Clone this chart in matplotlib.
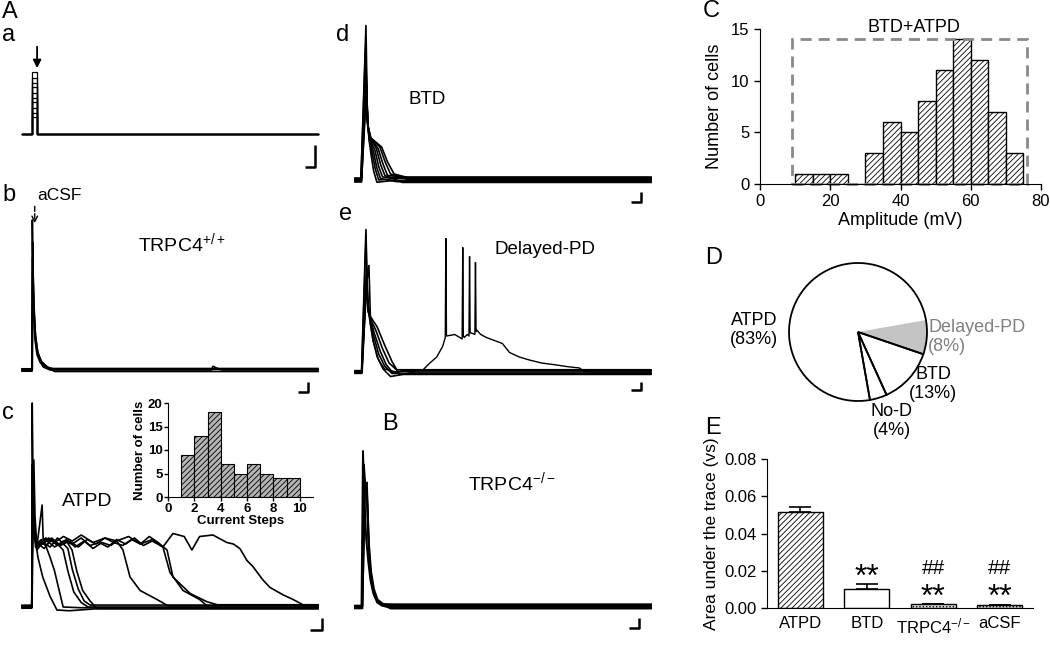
# Figure: TRPC4 plateau potential traces + summary panels
import numpy as np
import matplotlib
matplotlib.use("Agg")
import matplotlib.pyplot as plt
from matplotlib.patches import Rectangle

plt.rcParams['font.family'] = ['Liberation Sans', 'DejaVu Sans']
plt.rcParams['mathtext.fontset'] = 'custom'
plt.rcParams['mathtext.rm'] = 'Liberation Sans'
plt.rcParams['mathtext.it'] = 'Liberation Sans'
plt.rcParams['mathtext.bf'] = 'Liberation Sans:bold'
plt.rcParams['hatch.linewidth'] = 0.6

# ---------------- data ----------------
# Aa: current step protocol (display units)
step_levels = [11, 14, 17.5, 21, 24, 27.5, 31, 34, 37.5, 41]
step_on, step_off = 3.3, 4.95

# Ab: aCSF in TRPC4+/+ (time in % of sweep, voltage above baseline)
b_traces = [
    ([0, 3.3, 3.5, 3.8, 4.3, 5.0, 6.0, 7.2, 9.5, 64.0, 64.5, 65.5, 67.5, 100],
     [0, 0, 100, 55, 25, 13, 6, 2, 0, 0, 2.5, 1.5, 0, 0]),
    ([0, 3.4, 3.6, 3.9, 4.4, 5.1, 6.2, 8, 10, 100], [0.8, 0.8, 75, 45, 20, 10, 5, 1.5, 1.0, 1.0]),
    ([0, 3.4, 3.6, 3.9, 4.5, 5.3, 6.5, 8.5, 11, 100], [-0.8, -0.8, 85, 50, 24, 12, 6, 2, -1.0, -1.0]),
    ([0, 3.5, 3.7, 4.0, 4.6, 5.4, 6.6, 8.6, 11, 100], [0.3, 0.3, 70, 42, 22, 11, 5, 2, 0.4, 0.4]),
]

# Ac: ATPD traces
c_traces = [
    ([0, 3.3, 3.45, 3.8, 4.5, 5.4, 7.0, 9.5, 11.8, 16, 25, 100],
     [0, 0, 136, 70, 45, 33, 20, 7, -2, -2.5, -1.2, -1.2]),
    ([0, 3.4, 4.0, 4.4, 5.0, 6.5, 8.0, 9.5, 11.0, 12.2, 13.9, 20, 100],
     [0.8, 0.8, 98, 60, 42, 45, 41, 33, 24, 14, 0, -0.5, -0.5]),
    ([0, 3.3, 3.5, 3.9, 4.6, 6, 8, 10, 12, 13.9, 15.5, 17.5, 20, 22.3, 100],
     [-0.8, -0.8, 95, 55, 40, 44, 41, 45, 42, 38, 24, 10, 3, 0, 0]),
    ([0, 3.3, 3.6, 4.0, 5, 7, 9.5, 12, 14, 15.5, 17, 19, 21, 23, 100],
     [1.2, 1.2, 80, 50, 38, 43, 40, 46, 42, 39, 25, 12, 4, 1.3, 1.3]),
    ([0, 3.3, 3.6, 4.2, 5.5, 7.5, 10, 12.5, 15, 16.9, 18.5, 20.5, 23, 25.3, 100],
     [0, 0, 70, 45, 42, 39, 45, 41, 44, 38, 24, 11, 4, -1, -1]),
    ([0, 3.3, 3.5, 4, 5, 6.8, 7.2, 9, 12, 15, 18, 21, 24, 27, 30, 32, 34.1, 36.5, 39.9, 45.6, 49.3, 100],
     [0, 0, 88, 50, 40, 68, 42, 46, 41, 45, 40, 44, 39, 43, 41, 44, 38, 20, 11, 5, 0.8, 0.8]),
    ([0, 3.3, 3.6, 4.2, 5.5, 8, 11, 14, 17, 20, 23, 26, 29, 32, 35, 38, 41, 44, 47.6, 50, 54.4, 60, 63.5, 100],
     [0, 0, 75, 48, 41, 45, 40, 44, 42, 46, 41, 43, 40, 45, 42, 46, 41, 44, 40, 23, 11, 5, -0.8, -0.8]),
    ([0, 3.3, 3.6, 4.2, 5.5, 7.5, 10, 13, 16, 19, 22, 25, 28, 31, 34, 37, 40, 43, 46, 49, 51, 56.8, 62.5, 66, 100],
     [0, 0, 72, 47, 40, 43, 46, 41, 44, 40, 45, 42, 46, 43, 41, 45, 42, 47, 43, 38, 20, 9, 3.5, 1.5, 1.5]),
    ([0, 3.3, 3.6, 4.2, 5.5, 8, 11, 14, 17, 20, 24, 28, 32, 36, 40, 44, 47.6, 51, 54.8, 57.4,
      60, 64.5, 69.2, 71.4, 73.6, 76, 78, 81.4, 83.8, 88.3, 91.6, 96.3, 100],
     [0, 0, 78, 48, 42, 46, 43, 47, 44, 48, 43, 46, 44, 47, 42, 45, 40, 49, 47, 38,
      47, 48, 43, 42, 39, 31, 27, 18, 13, 8, 5, 0, 0]),
]

# Ad: BTD traces
d_traces = [
    ([0, 2.0, 3.7, 4.2, 4.8, 5.5, 6.3, 7.4, 12, 100], [0, 0, 103, 40, 26, 16, 6, -1.5, -0.5, -0.5]),
    ([0, 2.0, 3.6, 4.2, 4.8, 5.8, 6.9, 8.0, 13, 100], [0.9, 0.9, 90, 40, 27, 18, 7, 0, 0.9, 0.9]),
    ([0, 2.1, 3.6, 4.2, 4.9, 6.2, 7.4, 8.6, 14, 100], [-0.9, -0.9, 80, 38, 27, 19, 8, 1, -1.1, -1.1]),
    ([0, 2.1, 3.7, 4.3, 5.0, 6.7, 8.0, 9.3, 15, 100], [0.4, 0.4, 75, 38, 27, 20, 9, 2, 1.5, 1.5]),
    ([0, 2.1, 3.7, 4.3, 5.1, 7.2, 8.7, 10.1, 16, 100], [-0.4, -0.4, 70, 37, 28, 21, 10, 3, -1.6, -1.6]),
    ([0, 2.2, 3.8, 4.4, 5.2, 7.8, 9.4, 11.0, 17, 100], [1.3, 1.3, 66, 36, 28, 21, 11, 3, 2.0, 2.0]),
    ([0, 2.2, 3.8, 4.4, 5.3, 8.4, 10.2, 12.0, 18, 100], [0, 0, 60, 36, 28, 22, 12, 4, 0.2, 0.2]),
    ([0, 2.2, 3.8, 4.4, 5.4, 9.0, 11.0, 13.2, 20, 100], [-1.3, -1.3, 58, 35, 28, 22, 12, 4, 0.5, 0.5]),
]

# Ae: delayed plateau depolarization
e_traces = [
    ([0, 2.2, 3.7, 4.2, 5.0, 6.0, 7.5, 9.5, 12.0, 15, 20, 100], [0, 0, 95, 50, 35, 22, 10, 2, -3, -2, 0, 0]),
    ([0, 2.3, 4.0, 4.7, 5.2, 6.3, 8.0, 10.0, 12.5, 16, 100], [0.9, 0.9, 60, 71, 36, 24, 12, 4, -1, 0.9, 0.9]),
    ([0, 2.3, 3.9, 4.4, 5.1, 6.5, 8.5, 10.5, 13, 100], [-0.9, -0.9, 70, 45, 36, 26, 14, 5, -1.0, -1.0]),
    ([0, 2.3, 3.9, 4.4, 5.1, 7.0, 9.2, 11.5, 14, 100], [0.4, 0.4, 65, 42, 36, 28, 16, 6, 1.5, 1.5]),
    ([0, 2.4, 3.9, 4.4, 5.2, 7.5, 10.0, 12.5, 15, 100], [-0.4, -0.4, 62, 40, 37, 30, 18, 7, -1.6, -1.6]),
]
delayed_t = [0, 2.2, 3.7, 4.2, 5.0, 6.2, 8, 10, 14, 20,
             22.9, 25.3, 27.6, 29.6, 30.5, 30.7, 30.9, 33.7, 35.4, 36.2,
             36.4, 36.6, 36.9, 37.9, 38.5, 38.7, 38.9, 39.4, 40.5, 40.7,
             40.9, 41.1, 42.5, 44.4, 47.1, 49.8, 52.2, 55.5, 58.9, 63,
             68, 72, 75.8, 77.4, 80, 100]
delayed_v = [0, 0, 92, 48, 34, 20, 8, 2, 0, 0.5,
             1.3, 6, 10, 17, 23, 89, 24, 25, 23, 22,
             83, 24, 23, 25, 24, 77, 26, 26, 25, 73,
             27, 28, 25, 23, 21, 19, 13, 10, 8, 6,
             4.7, 3.5, 2.7, 0.5, 0, 0]

# B: TRPC4-/-
B_traces = [
    ([0, 2.2, 2.7, 3.2, 3.8, 4.5, 5.2, 6.2, 7.5, 9, 11, 100], [0, 0, 104, 70, 45, 30, 18, 9, 3, 1, 0, 0]),
    ([0, 2.4, 3.0, 3.5, 4.0, 4.8, 5.5, 6.5, 7.8, 9.5, 12, 100], [0.9, 0.9, 95, 80, 83, 35, 17, 8, 3, 1, 1.1, 1.1]),
    ([0, 2.5, 3.3, 4.0, 4.6, 5.3, 6.2, 7.4, 9, 12, 100], [-0.9, -0.9, 85, 75, 40, 22, 11, 5, 2, -1.0, -1.0]),
    ([0, 2.5, 3.4, 4.0, 4.6, 5.4, 6.4, 7.6, 9.5, 13, 100], [0.4, 0.4, 80, 78, 45, 24, 12, 5, 2, 1.8, 1.8]),
]

# Ac inset: current step at which ATPD appeared
step_bins = [1, 2, 3, 4, 5, 6, 7, 8, 9]
step_counts = [9, 13, 18, 7, 5, 7, 5, 4, 4]

# C: amplitude histogram (mV)
amp_bins = [10, 15, 20, 25, 30, 35, 40, 45, 50, 55, 60, 65, 70]
amp_counts = [1, 1, 1, 0, 3, 6, 5, 8, 11, 14, 12, 7, 3]

# D: response types (%)
pie_labels = ['ATPD', 'Delayed-PD', 'BTD', 'No-D']
pie_outline = [83, 13, 4]
pie_fill = [75, 8, 13, 4]

# E: area under the trace
e_groups = ['ATPD', 'BTD', 'TRPC4$^{-/-}$', 'aCSF']
e_means = [0.0515, 0.0100, 0.0020, 0.0015]
e_sem = [0.0025, 0.0030, 0.0003, 0.0002]

# ---------------- figure ----------------
W, H = 1050, 645
fig = plt.figure(figsize=(W / 100, H / 100), dpi=100)


def px_axes(x0, y0, x1, y1):
    return fig.add_axes([x0 / W, 1 - y1 / H, (x1 - x0) / W, (y1 - y0) / H])


def px_text(x, y, s, **kw):
    fig.text(x / W, 1 - y / H, s, **kw)


def trace_ax(x_start, baseline, top, bottom, width=296, vscale=1.5):
    left, right = x_start - 5, x_start + width + 12
    ax = px_axes(left, top, right, bottom)
    ax.set_xlim((left - x_start) / width * 100, (right - x_start) / width * 100)
    ax.set_ylim((baseline - bottom) / vscale, (baseline - top) / vscale)
    ax.axis('off')
    return ax


def scalebar(ax, t0, t1, v0, v1):
    ax.plot([t0, t1, t1], [v0, v0, v1], color='black', lw=1.8, solid_capstyle='butt')


def draw_traces(ax, traces, lw=1.2):
    for t, v in traces:
        ax.plot(t, v, color='black', lw=lw)


# Aa
ax = trace_ax(22, 134, 40, 172)
for lvl in step_levels:
    ax.plot([0, step_on, step_on, step_off, step_off, 100], [0, 0, lvl, lvl, 0, 0],
            color='black', lw=0.9)
ax.annotate('', xy=(5.1, 42), xytext=(5.1, 60),
            arrowprops=dict(arrowstyle='-|>', color='black', lw=1.3, mutation_scale=12))
scalebar(ax, 95.6, 99, -22, -7.3)

# Ab
ax = trace_ax(22, 370, 200, 395)
draw_traces(ax, b_traces)
ax.annotate('', xy=(4.3, 96), xytext=(4.3, 111),
            arrowprops=dict(arrowstyle='->', color='black', lw=1.0, linestyle='--'))
scalebar(ax, 93.2, 96.6, -14.7, -8)

# Ac
ax = trace_ax(22, 607, 395, 635)
draw_traces(ax, c_traces)
scalebar(ax, 97.3, 101.4, -15.3, -7.3)

# Ad
ax = trace_ax(355, 180, 15, 205)
draw_traces(ax, d_traces)
scalebar(ax, 93.3, 96.6, -14.7, -8)

# Ae
ax = trace_ax(355, 372, 215, 395)
draw_traces(ax, e_traces)
ax.plot(delayed_t, delayed_v, color='black', lw=1.0)
scalebar(ax, 93.3, 96.6, -12, -6.7)

# B
ax = trace_ax(355, 607, 435, 635)
draw_traces(ax, B_traces, lw=1.4)
scalebar(ax, 92.6, 96, -14, -7.3)

# Ac inset histogram
ax = px_axes(168, 403, 313, 497)
ax.bar(step_bins, step_counts, width=1, align='edge', facecolor='#b4b4b4',
       edgecolor='black', hatch='//////', lw=0.8)
ax.set_xlim(0, 11)
ax.set_ylim(0, 20)
ax.set_xticks([0, 2, 4, 6, 8, 10])
ax.set_yticks([0, 5, 10, 15, 20])
for s in ['top', 'right']:
    ax.spines[s].set_visible(False)
ax.tick_params(labelsize=9.5, length=3, width=1, pad=1)
for lab in ax.get_xticklabels() + ax.get_yticklabels():
    lab.set_fontweight('bold')
ax.set_xlabel('Current Steps', fontsize=9.5, fontweight='bold', labelpad=0)
ax.set_ylabel('Number of cells', fontsize=9.5, fontweight='bold', labelpad=1)

# C histogram
ax = px_axes(760, 29, 1041, 184)
ax.bar(amp_bins, amp_counts, width=5, align='edge', facecolor='white',
       edgecolor='black', hatch='//////', lw=1.0)
ax.add_patch(Rectangle((9, 0), 67, 14, fill=False, edgecolor='#8a8a8a',
                       lw=2, linestyle=(0, (4, 2.5)), clip_on=False))
ax.text(43.8, 15.1, 'BTD+ATPD', ha='center', va='center', fontsize=13)
ax.set_xlim(0, 80)
ax.set_ylim(0, 15)
ax.set_xticks([0, 20, 40, 60, 80])
ax.set_yticks([0, 5, 10, 15])
for s in ['top', 'right']:
    ax.spines[s].set_visible(False)
ax.tick_params(labelsize=12, length=4, width=1)
ax.set_xlabel('Amplitude (mV)', fontsize=13, labelpad=2)
ax.set_ylabel('Number of cells', fontsize=13, labelpad=6)

# D pie
r_px = 69
ax = px_axes(858 - 75, 332 - 75, 858 + 75, 332 + 75)
ax.pie(pie_fill, colors=['white', '#c4c4c4', 'white', 'white'], startangle=280,
       counterclock=False, wedgeprops=dict(linewidth=0))
ax.pie(pie_outline, colors=['none', 'none', 'none'], startangle=280, counterclock=False,
       wedgeprops=dict(edgecolor='black', linewidth=1.3, fill=False))
ax.set_xlim(-75 / r_px, 75 / r_px)
ax.set_ylim(-75 / r_px, 75 / r_px)
ax.set_aspect('equal')
px_text(754, 330, 'ATPD\n(83%)', ha='center', va='center', fontsize=13, linespacing=1.1)
px_text(928, 337, 'Delayed-PD\n(8%)', ha='left', va='center', fontsize=13,
        linespacing=1.1, color='#808080')
px_text(933, 384, 'BTD\n(13%)', ha='center', va='center', fontsize=13, linespacing=1.1)
px_text(892, 421, 'No-D\n(4%)', ha='center', va='center', fontsize=13, linespacing=1.1)

# E bars
ax = px_axes(767, 459, 1033, 608)
xpos = np.arange(len(e_groups))
styles = [dict(facecolor='white', hatch='//////'),
          dict(facecolor='white'),
          dict(facecolor='#e2e2e2', hatch='.....'),
          dict(facecolor='#e2e2e2', hatch='.....')]
for i in range(len(e_groups)):
    ax.bar(xpos[i], e_means[i], width=0.67, edgecolor='black', lw=1.0, **styles[i])
ax.errorbar(xpos, e_means, yerr=[np.zeros(len(e_sem)), e_sem], fmt='none',
            ecolor='black', elinewidth=1.2, capsize=8, capthick=1.2)
ax.text(1, 0.0120, '**', ha='center', va='baseline', fontsize=23)
for i in [2, 3]:
    ax.text(i, 0.0180, '##', ha='center', va='baseline', fontsize=15)
    ax.text(i, 0.0012, '**', ha='center', va='baseline', fontsize=23)
ax.set_xlim(-0.5, 3.5)
ax.set_ylim(0, 0.08)
ax.set_xticks(xpos)
ax.set_xticklabels(e_groups)
ax.set_yticks([0, 0.02, 0.04, 0.06, 0.08])
ax.set_yticklabels(['0.00', '0.02', '0.04', '0.06', '0.08'])
for s in ['top', 'right']:
    ax.spines[s].set_visible(False)
ax.tick_params(axis='x', length=0, labelsize=12, pad=6)
ax.tick_params(axis='y', length=4, width=1, labelsize=12)
ax.set_ylabel('Area under the trace (vs)', fontsize=12.5, labelpad=4)

# panel letters and trace labels
for x, y, s in [(2, 12, 'A'), (2, 35, 'a'), (2, 195, 'b'), (2, 413, 'c'),
                (336, 35, 'd'), (339, 214, 'e'), (382, 424, 'B'),
                (703, 11, 'C'), (705, 258, 'D'), (705, 428, 'E')]:
    px_text(x, y, s, ha='left', va='center', fontsize=17)
px_text(37, 195, 'aCSF', ha='left', va='center', fontsize=12.5)
px_text(138, 243, 'TRPC4$^{+/+}$', ha='left', va='center', fontsize=14)
px_text(62, 502, 'ATPD', ha='left', va='center', fontsize=14)
px_text(408, 100, 'BTD', ha='left', va='center', fontsize=13.5)
px_text(495, 250, 'Delayed-PD', ha='left', va='center', fontsize=13.5)
px_text(468, 482, 'TRPC4$^{-/-}$', ha='left', va='center', fontsize=14)

fig.savefig('out.png', dpi=100)
